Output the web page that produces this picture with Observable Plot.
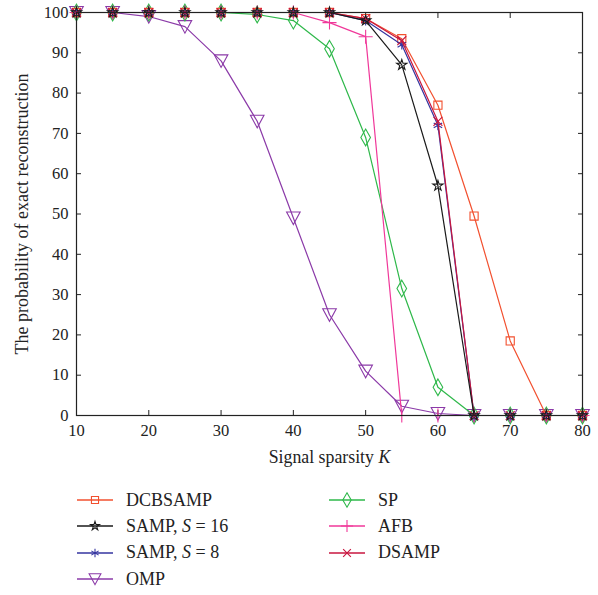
<!DOCTYPE html>
<html>
<head>
<meta charset="utf-8">
<script src="https://cdn.jsdelivr.net/npm/d3@7"></script>
<script src="https://cdn.jsdelivr.net/npm/@observablehq/plot@0.6"></script>
<style>
  html, body { margin: 0; padding: 0; background: #fff; }
  #chart { width: 598px; font-family: "Liberation Serif", "DejaVu Serif", serif; }
  #legend { display: grid; grid-template-columns: 252px 220px; margin-left: 77px; margin-top: 9px; row-gap: 0px; }
  .item { display: flex; align-items: center; height: 26.3px; font-size: 18px; color: #222; }
  .item svg { margin-right: 13px; }
</style>
</head>
<body>
<div id="chart"></div>
<script>
const sparsity = [10, 15, 20, 25, 30, 35, 40, 45, 50, 55, 60, 65, 70, 75, 80];
const DCBSAMP = [100, 100, 100, 100, 100, 100, 100, 100, 98.5, 93.5, 77, 49.5, 18.5, 0, 0];
const SAMP16  = [100, 100, 100, 100, 100, 100, 100, 100, 98, 87, 57, 0, 0, 0, 0];
const SAMP8   = [100, 100, 100, 100, 100, 100, 100, 100, 98, 92, 72, 0, 0, 0, 0];
const OMP     = [100, 100, 99, 96.5, 88, 73, 49, 25, 11, 2.3, 0.5, 0, 0, 0, 0];
const SP      = [100, 100, 100, 100, 100, 99.5, 98, 91, 69, 31.5, 7, 0, 0, 0, 0];
const AFB     = [100, 100, 100, 100, 100, 100, 100, 97.5, 94, 0, 0, 0, 0, 0, 0];
const DSAMP   = [100, 100, 100, 100, 100, 100, 100, 100, 98.5, 93, 73, 0, 0, 0, 0];
const xTicks = [10, 20, 30, 40, 50, 60, 70, 80];
const yTicks = [0, 10, 20, 30, 40, 50, 60, 70, 80, 90, 100];

const downTriangle = {
  draw(ctx, size) {
    const h = Math.sqrt(size / 0.8);
    const w = h * 0.62;
    ctx.moveTo(-w, -h * 0.55);
    ctx.lineTo(w, -h * 0.55);
    ctx.lineTo(0, h * 0.6);
    ctx.closePath();
  }
};

const series = [
  {name: "DCBSAMP", label: "DCBSAMP", values: DCBSAMP, color: "#f2502f", symbol: "square", size: 1},
  {name: "SP", label: "SP", values: SP, color: "#2eb84a", symbol: "diamond", size: 1.1},
  {name: "SAMP16", label: "SAMP, <i>S</i> = 16", values: SAMP16, color: "#1a1a1a", symbol: "star", size: 0.7},
  {name: "AFB", label: "AFB", values: AFB, color: "#f0389a", symbol: "plus", size: 1},
  {name: "SAMP8", label: "SAMP, <i>S</i> = 8", values: SAMP8, color: "#3535a0", symbol: "asterisk", size: 1},
  {name: "DSAMP", label: "DSAMP", values: DSAMP, color: "#c8163f", symbol: "times", size: 0.9},
  {name: "OMP", label: "OMP", values: OMP, color: "#8b3aa8", symbol: downTriangle, size: 1.2}
];
const drawOrder = ["OMP", "SP", "AFB", "DCBSAMP", "SAMP8", "DSAMP", "SAMP16"];

const marks = [];
for (const n of drawOrder) {
  const s = series.find(d => d.name === n);
  const data = sparsity.map((k, i) => ({k, v: s.values[i]}));
  marks.push(Plot.line(data, {x: "k", y: "v", stroke: s.color, strokeWidth: 1.2}));
  marks.push(Plot.dot(data, {x: "k", y: "v", stroke: s.color, symbol: s.symbol, r: 4.6 * s.size, strokeWidth: 1.1, fill: "none"}));
}

const plot = Plot.plot({
  width: 598,
  height: 478,
  marginLeft: 76,
  marginRight: 16,
  marginTop: 12,
  marginBottom: 63,
  style: {fontFamily: "Liberation Serif, DejaVu Serif, serif", fontSize: "16px", color: "#222", background: "#fff"},
  x: {domain: [10, 80]},
  y: {domain: [0, 100]},
  marks: [
    Plot.axisX({anchor: "bottom", ticks: xTicks, tickSize: -5, tickPadding: 14, label: null, fontSize: 16.5}),
    Plot.axisX({anchor: "top", ticks: xTicks, tickSize: -5, tickFormat: () => "", label: null}),
    Plot.axisY({anchor: "left", ticks: yTicks, tickSize: -5, tickPadding: 13, label: null, fontSize: 16.5}),
    Plot.axisY({anchor: "right", ticks: yTicks, tickSize: -5, tickFormat: () => "", label: null}),
    ...marks,
    Plot.frame({stroke: "#222", strokeWidth: 1.2}),
    Plot.text(["Signal sparsity K"], {frameAnchor: "bottom", dy: 47, fontSize: 17.8, fill: "#222", textAnchor: "middle"}),
    Plot.text(["The probability of exact reconstruction"], {frameAnchor: "left", dx: -54, rotate: -90, fontSize: 18, fill: "#222", textAnchor: "middle"})
  ]
});

document.getElementById("chart").appendChild(plot);

// italic K in x label
plot.querySelectorAll("text").forEach(t => {
  if (t.textContent === "Signal sparsity K") {
    t.innerHTML = "";
    const a = document.createElementNS("http://www.w3.org/2000/svg", "tspan");
    a.textContent = "Signal sparsity ";
    const b = document.createElementNS("http://www.w3.org/2000/svg", "tspan");
    b.textContent = "K";
    b.setAttribute("font-style", "italic");
    t.appendChild(a); t.appendChild(b);
  }
});

// legend
const legend = document.createElement("div");
legend.id = "legend";
const legendOrder = ["DCBSAMP", "SP", "SAMP16", "AFB", "SAMP8", "DSAMP", "OMP"];
const symMap = {square: d3.symbolSquare, diamond: d3.symbolDiamond, star: d3.symbolStar, plus: d3.symbolPlus, asterisk: d3.symbolAsterisk, times: d3.symbolTimes};
for (const n of legendOrder) {
  const s = series.find(d => d.name === n);
  const item = document.createElement("div");
  item.className = "item";
  const svg = d3.create("svg").attr("width", 36).attr("height", 20);
  svg.append("line").attr("x1", 0).attr("x2", 36).attr("y1", 10).attr("y2", 10).attr("stroke", s.color).attr("stroke-width", 1.3);
  const type = typeof s.symbol === "string" ? symMap[s.symbol] : s.symbol;
  const r = 4.0 * s.size;
  svg.append("path").attr("transform", "translate(18,10)").attr("d", d3.symbol(type, Math.PI * r * r)())
    .attr("fill", "none").attr("stroke", s.color).attr("stroke-width", 1.1);
  item.appendChild(svg.node());
  const span = document.createElement("span");
  span.innerHTML = s.label;
  item.appendChild(span);
  legend.appendChild(item);
}
document.getElementById("chart").appendChild(legend);
</script>
</body>
</html>
